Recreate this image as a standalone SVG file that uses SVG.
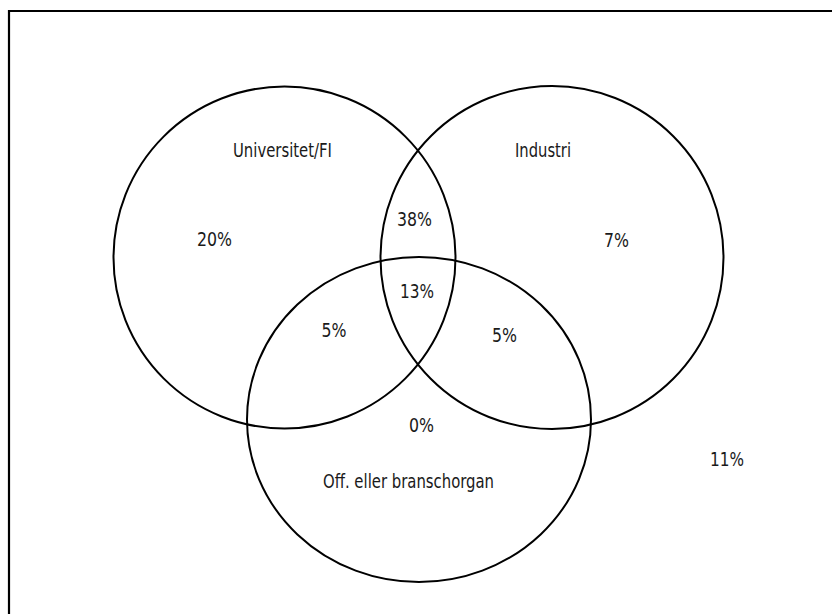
<svg xmlns="http://www.w3.org/2000/svg" width="832" height="614" viewBox="0 0 832 614">
<style>
.c{fill:none;stroke:#000;stroke-width:2}
.t{font-family:"DejaVu Sans Condensed","DejaVu Sans",sans-serif;font-stretch:condensed;font-size:20px;fill:#1a1a1a;text-anchor:middle}
</style>
<rect width="832" height="614" fill="#fff"/>
<path d="M9,620 V11 H840" fill="none" stroke="#000" stroke-width="2.2"/>
<g id="universitet">
<circle class="c" cx="284.5" cy="257.5" r="171"/>
<text class="t" x="282.5" y="157" textLength="99" lengthAdjust="spacingAndGlyphs">Universitet/FI</text>
</g>
<g id="industri">
<circle class="c" cx="552" cy="257.5" r="171.5"/>
<text class="t" x="543" y="157" textLength="56" lengthAdjust="spacingAndGlyphs">Industri</text>
</g>
<g id="off">
<ellipse class="c" cx="419" cy="419.5" rx="172" ry="162.5"/>
<text class="t" x="408.5" y="488" textLength="171" lengthAdjust="spacingAndGlyphs">Off. eller branschorgan</text>
</g>
<g id="values">
<text class="t" x="214.5" y="246" textLength="35" lengthAdjust="spacingAndGlyphs">20%</text>
<text class="t" x="414.5" y="226" textLength="35" lengthAdjust="spacingAndGlyphs">38%</text>
<text class="t" x="417" y="298" textLength="34" lengthAdjust="spacingAndGlyphs">13%</text>
<text class="t" x="616.5" y="247" textLength="25" lengthAdjust="spacingAndGlyphs">7%</text>
<text class="t" x="334" y="337" textLength="25" lengthAdjust="spacingAndGlyphs">5%</text>
<text class="t" x="504.5" y="342" textLength="25" lengthAdjust="spacingAndGlyphs">5%</text>
<text class="t" x="421.5" y="432" textLength="25" lengthAdjust="spacingAndGlyphs">0%</text>
<text class="t" x="727" y="466" textLength="34" lengthAdjust="spacingAndGlyphs">11%</text>
</g>
<g id="connectors"></g>
</svg>
